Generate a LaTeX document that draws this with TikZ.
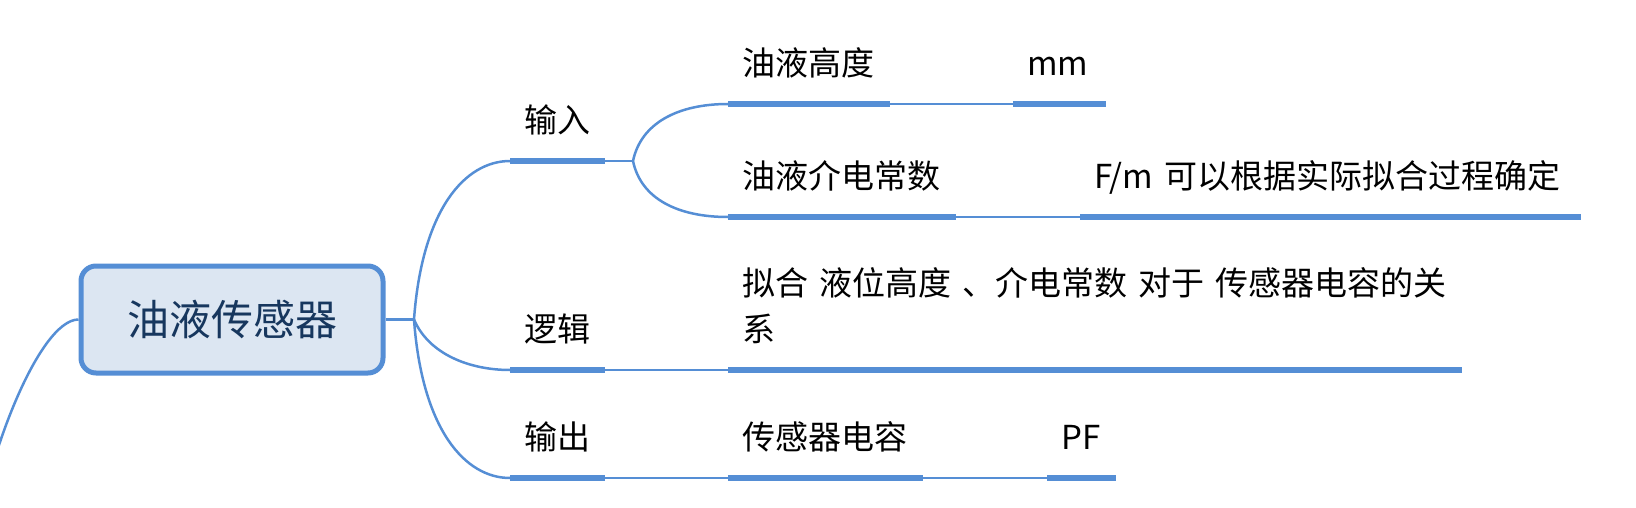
\documentclass[tikz,border=0pt]{standalone}
\usepackage{fontspec}
\newfontfamily\cjk{Noto Sans CJK SC}
\usepackage{tikz}

\definecolor{mapblue}{RGB}{85,142,213}
\definecolor{mapfill}{RGB}{220,230,242}
\definecolor{mapnavy}{RGB}{23,55,94}

\tikzset{
  central/.style={draw=mapblue, line width=5pt, fill=mapfill, rounded corners=15pt,
    minimum width=302pt, minimum height=107pt, inner sep=0pt, text=mapnavy,
    font=\cjk\fontsize{42pt}{50pt}\selectfont},
  topic/.style={anchor=south west, inner xsep=14pt, inner ysep=28pt, text depth=0pt,
    align=left, font=\cjk\fontsize{33pt}{46pt}\selectfont},
  bar/.style={draw=mapblue, line width=6.5pt},
  twig/.style={draw=mapblue, line width=2.5pt}
}

\begin{document}
\begin{tikzpicture}[x=1pt,y=-1pt]
\useasboundingbox (0,0) rectangle (1636,508);
\clip (0,0) rectangle (1636,508);

\node[central] (oil) at (232,319.5) {油液传感器};
\coordinate (up) at (-28,565);
\coordinate (hub) at (414,319.5);
\coordinate (inhub) at (633,161);

\node[topic, text width=67pt] (in) at (510,161) {输入};
\node[topic, text width=67pt] (lg) at (510,370) {逻辑};
\node[topic, text width=67pt] (out) at (510,478) {输出};

\node[topic, text width=134pt] (ht) at (728,104) {油液高度};
\node[topic, text width=65pt] (mm) at (1013,104) {mm};
\node[topic, text width=200pt] (eps) at (728,217) {油液介电常数};
\node[topic, text width=473pt] (fm) at (1080,217) {F/m 可以根据实际拟合过程确定};
\node[topic, text width=706pt] (fit) at (728,370) {\parbox[b]{706pt}{拟合 液位高度 、介电常数 对于 传感器电容的关\\系}};
\node[topic, text width=167pt] (cap) at (728,478) {传感器电容};
\node[topic, text width=41pt] (pf) at (1047,478) {PF};

\foreach \n in {in,lg,out,ht,mm,eps,fm,fit,cap,pf}
  \draw[bar] (\n.south west) -- (\n.south east);

\draw[twig] (oil.west) .. controls +(-40,0) and +(10,-100) .. (up);
\draw[twig] (oil.east) -- (hub);
\draw[twig] (hub) .. controls +(8,-110) and +(-45,0) .. (in.south west);
\draw[twig] (hub) .. controls +(15,35) and +(-40,0) .. (lg.south west);
\draw[twig] (hub) .. controls +(8,110) and +(-45,0) .. (out.south west);

\draw[twig] (in.south east) -- (inhub);
\draw[twig] (inhub) .. controls +(8,-38) and +(-50,0) .. (ht.south west);
\draw[twig] (inhub) .. controls +(8,38) and +(-50,0) .. (eps.south west);
\draw[twig] (ht.south east) -- (mm.south west);
\draw[twig] (eps.south east) -- (fm.south west);
\draw[twig] (lg.south east) -- (fit.south west);
\draw[twig] (out.south east) -- (cap.south west);
\draw[twig] (cap.south east) -- (pf.south west);
\end{tikzpicture}
\end{document}
